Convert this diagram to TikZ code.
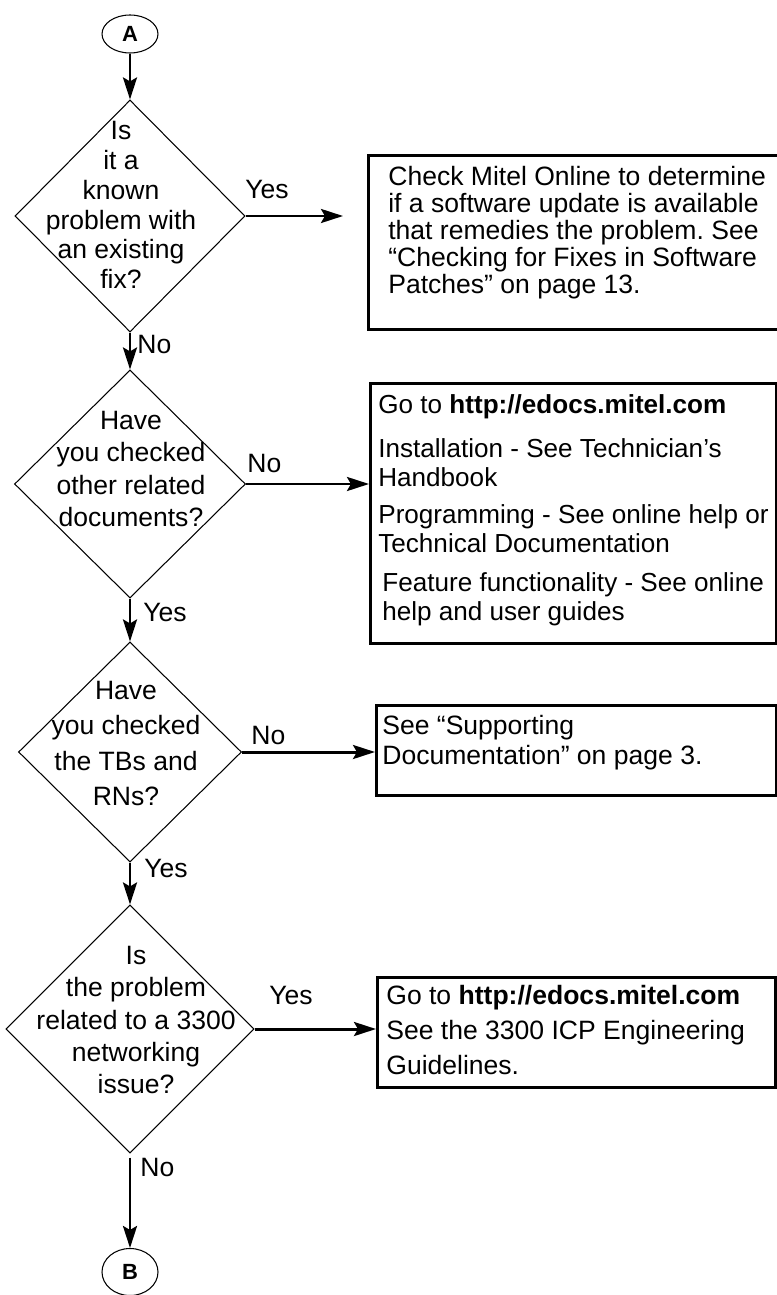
\documentclass[tikz,border=0pt]{standalone}
\usepackage{fontspec}
\setmainfont{Liberation Sans}
\frenchspacing
\usetikzlibrary{arrows.meta,positioning,shapes.geometric,calc}
\tikzset{
  decision/.style={diamond,draw,line width=0.6pt,inner sep=0pt},
  question/.style={align=center,inner sep=0pt,font=\fontsize{15.1}{#1}\selectfont},
  infobox/.style={draw,line width=1.5pt,anchor=north west,inner sep=0pt},
  boxtext/.style={align=left,inner sep=0pt,font=\fontsize{15.1}{#1}\selectfont},
  connector/.style={ellipse,draw,line width=0.6pt,inner sep=0pt,minimum width=1.12cm,
    font=\fontsize{12.5}{14}\selectfont\bfseries},
  answer/.style={anchor=west,inner sep=0pt},
  flow arrow/.style={-{Stealth[length=4.4mm,width=2.8mm,inset=0.8mm]},line width=1.7pt}
}

\begin{document}
\begin{tikzpicture}[font=\fontsize{15.1}{17}\selectfont]
  \useasboundingbox (0,0) rectangle (15.52,-25.9);
  % left column: connectors and questions
  \node[connector,minimum height=0.76cm] (A) at (2.6,-0.68) {A};
  \node[decision,minimum width=4.6cm,minimum height=4.64cm] (d1) at (2.6,-4.32) {};
  \node[question=17pt] (q1) at (2.42,-4.10) {Is\\it a\\known\\problem with\\an existing\\fix?};
  \node[decision,minimum width=4.62cm,minimum height=4.56cm] (d2) at (2.6,-9.68) {};
  \node[question=18.5pt] (q2) at (2.62,-9.38) {Have\\you checked\\other related\\documents?};
  \node[decision,minimum width=4.46cm,minimum height=4.4cm] (d3) at (2.6,-15.04) {};
  \node[question=20.2pt] (q3) at (2.52,-14.87) {Have\\you checked\\the TBs and\\RNs?};
  \node[decision,minimum width=4.96cm,minimum height=4.96cm] (d4) at (2.6,-20.58) {};
  \node[question=18.4pt] (q4) at (2.72,-20.4) {Is\\the problem\\related to a 3300\\networking\\issue?};
  \node[connector,minimum height=0.94cm] (B) at (2.6,-25.44) {B};
  % right column: what to do
  \node[infobox,minimum width=8.7cm,minimum height=3.48cm] (fix) at (7.34,-3.08) {};
  \node[boxtext=15.4pt,below right=0.24cm and 0.42cm of fix.north west] (fixtext)
    {Check Mitel Online to determine\\if a software update is available\\that remedies the problem. See\\“Checking for Fixes in Software\\Patches” on page 13.};
  \node[infobox,minimum width=8.12cm,minimum height=5.2cm] (docs) at (7.38,-7.64) {};
  \node[boxtext=16.5pt,font=\fontsize{14.85}{16.5}\selectfont,below right=0.24cm and 0.18cm of docs.north west] (docstext)
    {Go to \textbf{http://edocs.mitel.com}\\[0.3cm]Installation - See Technician’s\\Handbook\\[0.16cm]Programming - See online help or\\Technical Documentation\\[0.2cm]\hspace*{0.08cm}Feature functionality - See online\\\hspace*{0.08cm}help and user guides};
  \node[infobox,minimum width=8.0cm,minimum height=1.8cm] (notes) at (7.5,-14.08) {};
  \node[boxtext=17pt,below right=0.22cm and 0.14cm of notes.north west] (notestext)
    {See “Supporting\\Documentation” on page 3.};
  \node[infobox,minimum width=7.96cm,minimum height=2.2cm] (guide) at (7.52,-19.52) {};
  \node[boxtext=17pt,below right=0.18cm and 0.2cm of guide.north west] (guidetext)
    {Go to \textbf{http://edocs.mitel.com}\\[0.1cm]See the 3300 ICP Engineering\\[0.1cm]Guidelines.};
  % connectors
  \draw[flow arrow] (A) -- (d1);
  \draw[flow arrow] (d1) -- (d2);
  \draw[flow arrow] (d2) -- (d3);
  \draw[flow arrow] (d3) -- (d4);
  \draw[flow arrow,shorten <=0.08cm] (d4) -- (B);
  \draw[flow arrow,shorten >=0.48cm] (d1.east) -- (d1.east -| fix.west);
  \draw[flow arrow] (d2.east) -- (d2.east -| docs.west);
  \draw[flow arrow] (d3.east) -- (d3.east -| notes.west);
  \draw[flow arrow] (d4.east) -- (d4.east -| guide.west);
  % answers
  \node[answer] (yes1) at (4.9,-3.8) {Yes};
  \node[answer] (no1) at (2.74,-6.9) {No};
  \node[answer] (no2) at (4.94,-9.26) {No};
  \node[answer] (yes2) at (2.86,-12.24) {Yes};
  \node[answer] (no3) at (5.02,-14.7) {No};
  \node[answer] (yes3) at (2.88,-17.36) {Yes};
  \node[answer] (yes4) at (5.38,-19.9) {Yes};
  \node[answer] (no4) at (2.8,-23.34) {No};
\end{tikzpicture}
\end{document}
